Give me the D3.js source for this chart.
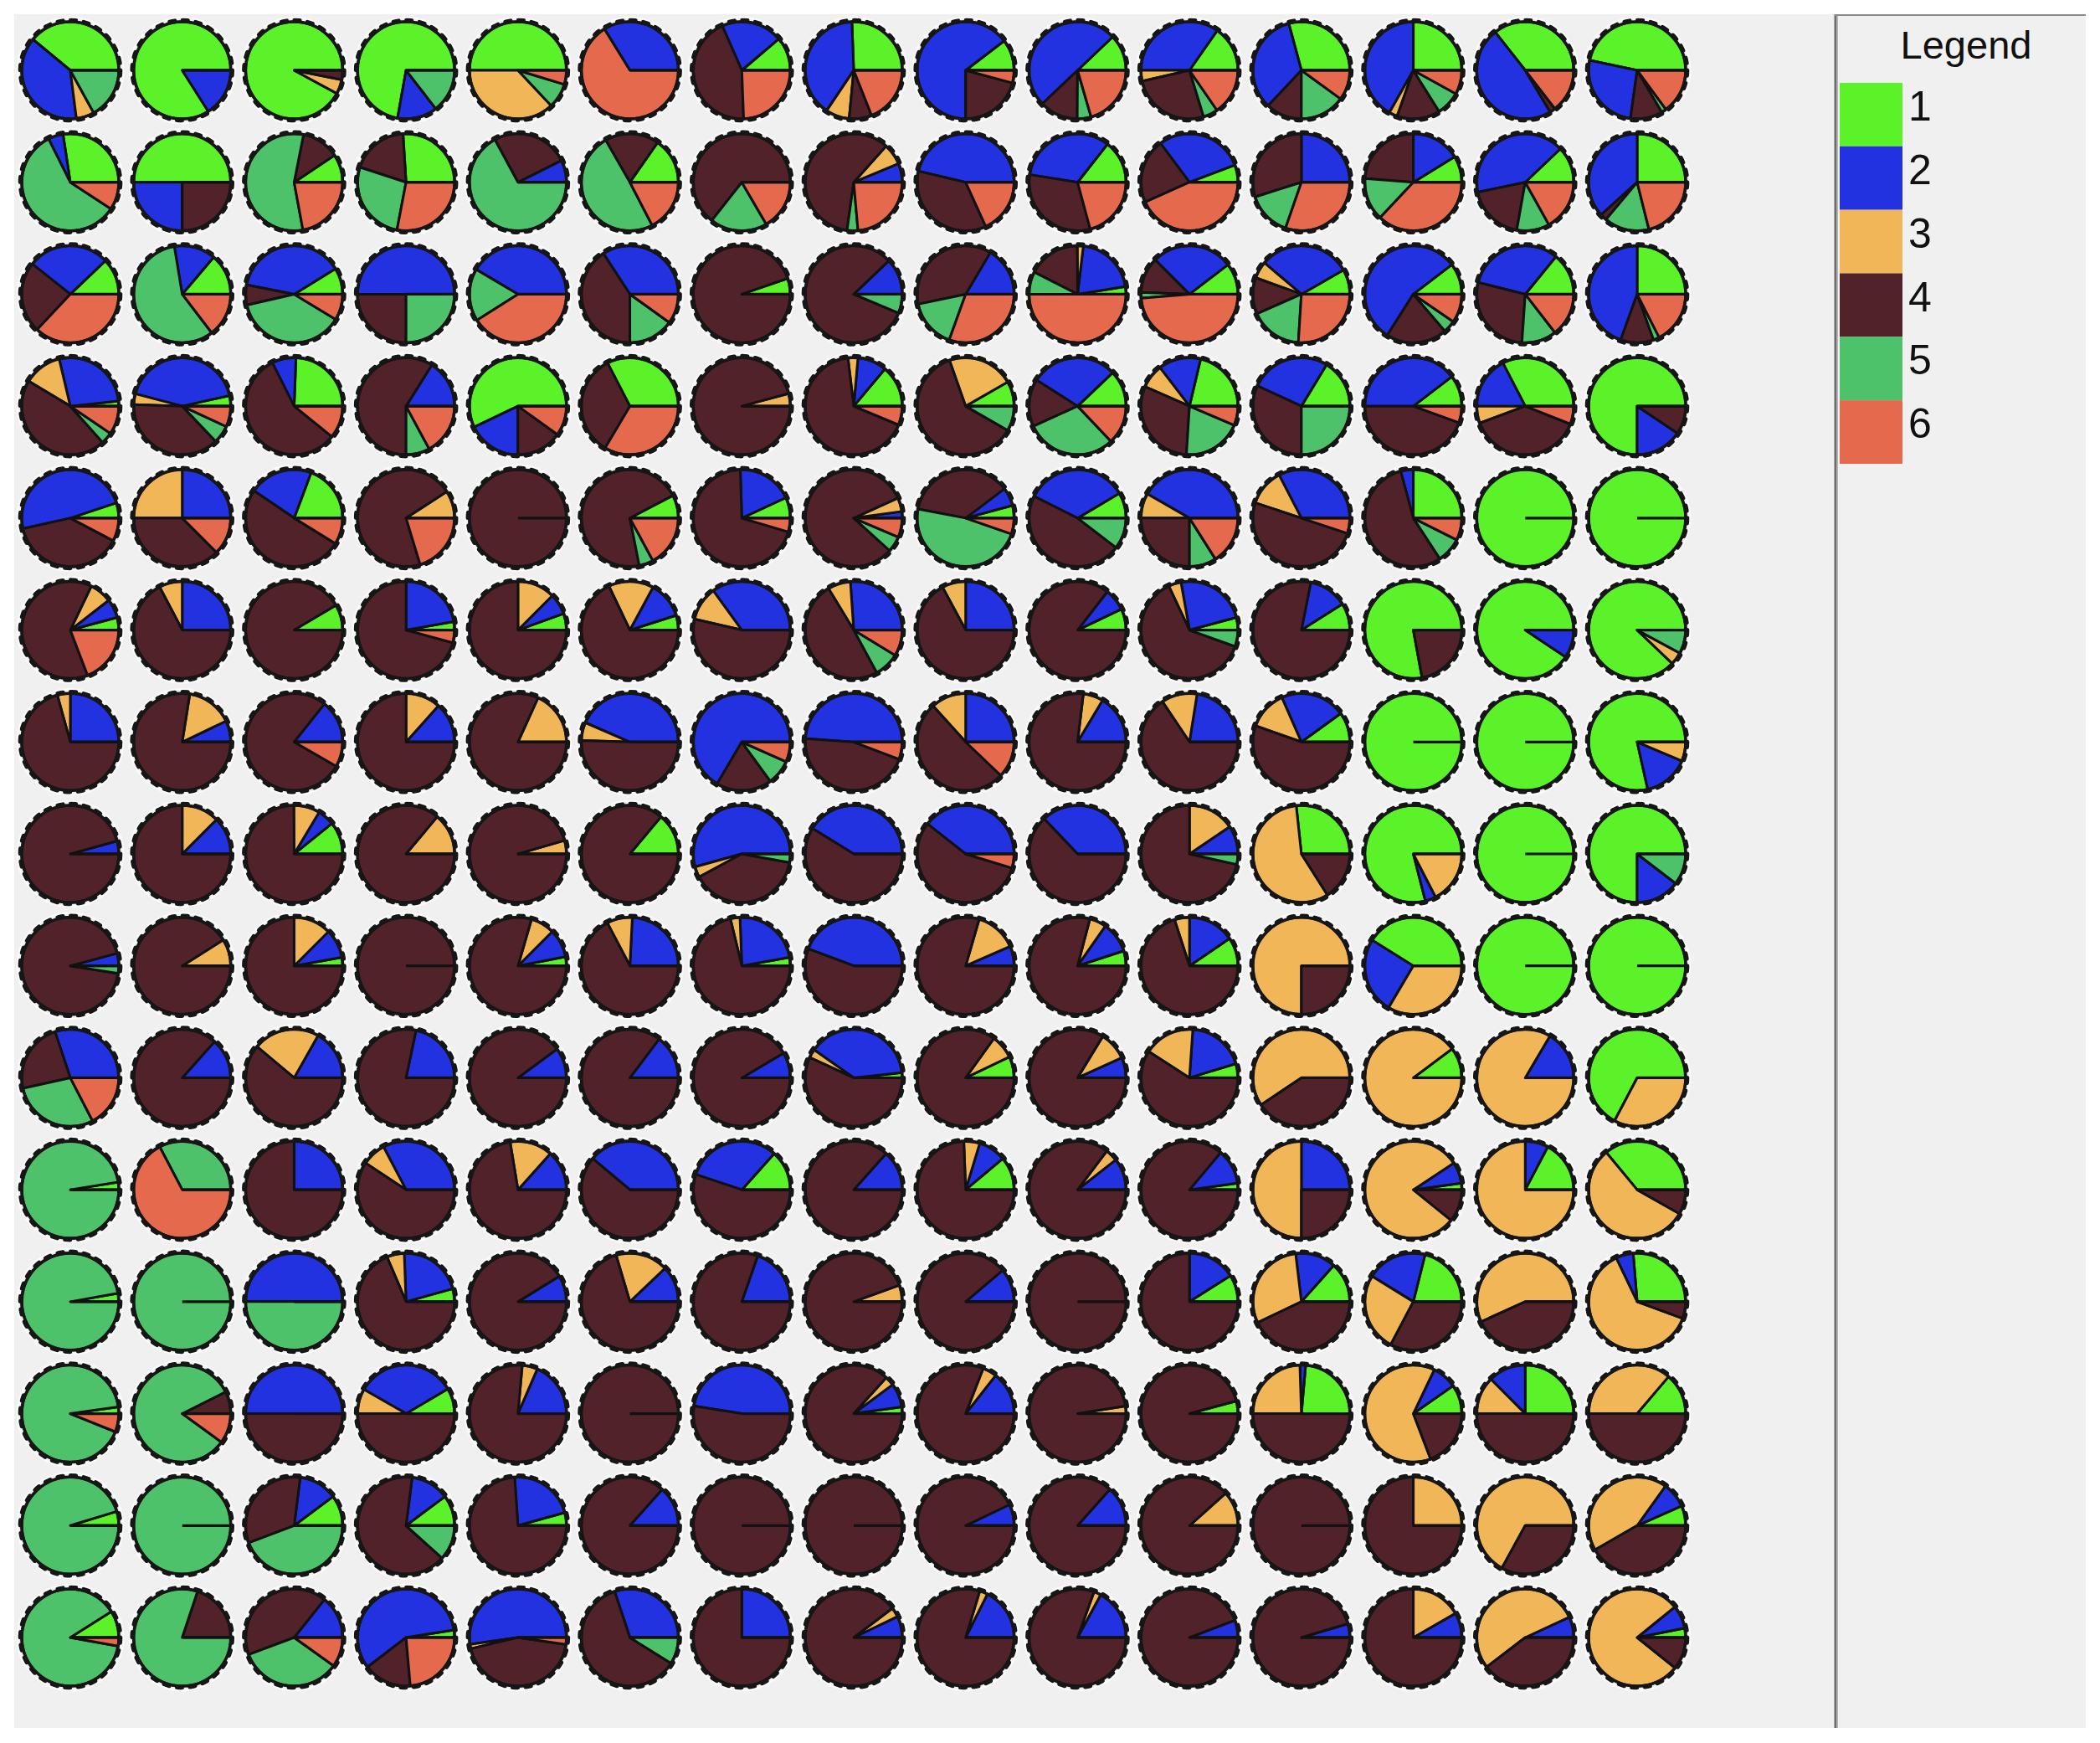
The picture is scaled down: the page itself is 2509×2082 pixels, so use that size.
<!DOCTYPE html>
<html>
<head>
<meta charset="utf-8">
<script src="https://cdn.jsdelivr.net/npm/d3@7"></script>
<style>
    body { margin: 0; background: #ffffff; }
    text { font-family: "Liberation Sans", Arial, sans-serif; fill: #111; }
</style>
</head>
<body>
<div id="som-pies"></div>
<script>
// class labels and their colours (legend order)
const classes = ["1", "2", "3", "4", "5", "6"];
const classColors = ["#5bf22a", "#2332e0", "#f0b657", "#52222b", "#4ec26b", "#e5694c"];

// share of each class (1..6) in every map node, one array per grid row
const row0 = [
    [39, 38, 6, 0, 17, 0], [84, 16, 0, 0, 0, 0], [92.1, 0, 4.8, 3.1, 0, 0], [72.2, 13.3, 0, 0, 14.5, 0], [50, 0, 37, 0, 8.3, 4.7],
    [0, 33.8, 0, 0, 0, 66.2], [11.2, 20.4, 0, 44, 0, 24.4], [25.6, 40, 7.9, 7.5, 0, 19], [10.4, 64.6, 0, 20.8, 0, 4.2], [12.1, 50, 0, 12.8, 4.6, 20.5],
    [15.3, 34.7, 3.6, 26.1, 4.9, 15.4], [29.2, 33.8, 0, 12, 15, 10], [25, 41.8, 2.8, 14.3, 8.1, 8], [35.6, 48, 0, 1.9, 0, 14.5], [46.7, 26.1, 0, 10.7, 1.6, 14.9]
];
const row1 = [
    [27.4, 5, 0, 0, 58.4, 9.2], [50, 25, 0, 25, 0, 0], [9.4, 0, 0, 12.5, 56, 22.1], [26, 0, 0, 19, 27, 28], [0, 7.4, 0, 25.5, 67.1, 0],
    [15.3, 0, 0, 18, 49.3, 17.4], [0, 0, 0, 64.4, 19, 16.6], [0, 6.3, 7.1, 59.4, 3.6, 23.6], [0, 46.3, 0, 35.5, 0, 18.2], [14.4, 33.1, 0, 31.7, 0, 20.8],
    [5.8, 29.4, 0, 21.5, 0, 43.3], [0, 25, 0, 29.9, 14.8, 30.3], [8.8, 16.2, 0, 23.8, 14.2, 37], [12.1, 41.2, 0, 18.9, 10.9, 16.9], [25, 36.7, 0, 2.2, 15, 21.1]
];
const row2 = [
    [12.1, 27.2, 0, 23.7, 0, 37], [13.8, 13.8, 0, 0, 57.8, 14.6], [8.8, 38.1, 0, 6.7, 37.7, 8.7], [0, 50, 0, 25, 25, 0], [0, 41.5, 0, 0, 17.5, 41],
    [0, 34.2, 0, 40.8, 15.1, 9.9], [5.3, 0, 0, 94.7, 0, 0], [0, 12.1, 0, 81.6, 6.3, 0], [0, 16.5, 0, 36.8, 16.2, 30.5], [2.5, 20.6, 2, 17.4, 7.5, 50],
    [10.4, 27.1, 0, 11.9, 1.9, 48.7], [8.3, 30.5, 5.7, 12.1, 17.4, 26], [10.4, 55.6, 0, 20.3, 4.1, 9.6], [14.1, 32, 0, 27.8, 11.6, 14.5], [25, 44.5, 0, 11, 2, 17.5]
];
const row3 = [
    [1.7, 27, 12.7, 45.2, 3.9, 9.5], [3.5, 42.4, 3.6, 37.6, 6, 6.9], [24.4, 8, 0, 56.8, 0, 10.8], [0, 16.1, 0, 58.9, 7.9, 17.1], [57.1, 17.9, 0, 15.1, 0, 9.9],
    [32.6, 0, 0, 33.9, 0, 33.5], [0, 0, 4.2, 95.8, 0, 0], [13.9, 9.7, 3.3, 66.8, 0, 6.3], [8.3, 0, 22.1, 61.3, 8.3, 0], [12.1, 28.9, 0, 15.8, 30.3, 12.9],
    [21.3, 14.1, 8, 30.6, 19.6, 6.4], [16.3, 26.8, 0, 31.9, 25, 0], [10.4, 39.6, 0, 44.5, 0, 5.5], [32.6, 17.4, 5.7, 38.3, 0, 6], [75, 15.6, 0, 9.4, 0, 0]
];
const row4 = [
    [5.1, 48.4, 0, 38.8, 0, 7.7], [0, 25, 25, 37.5, 0, 12.5], [19.3, 21.2, 0, 50.7, 0, 8.8], [0, 0, 9.2, 70.5, 0, 20.3], [0, 0, 0, 100, 0, 0],
    [7.7, 0, 0, 70.4, 4.8, 17.1], [6.9, 18.6, 0, 69.9, 0, 4.6], [0, 2.2, 4.6, 81.5, 5.3, 6.4], [4.2, 6.1, 0, 36.7, 47.7, 5.3], [8.5, 34.1, 0, 47, 10.4, 0],
    [0, 41.7, 8.3, 25, 9, 16], [0, 32.6, 12.3, 50, 0, 5.1], [25, 4.2, 0, 55, 8.4, 7.4], [100, 0, 0, 0, 0, 0], [100, 0, 0, 0, 0, 0]
];
const row5 = [
    [4.2, 6.3, 7.4, 62.9, 0, 19.2], [0, 25, 7.7, 67.3, 0, 0], [8.5, 0, 0, 91.5, 0, 0], [2.8, 22.2, 0, 70.8, 0, 4.2], [5.5, 7, 12.5, 75, 0, 0],
    [4.9, 12.2, 15, 67.9, 0, 0], [0, 35, 11.4, 53.6, 0, 0], [0, 26.1, 7.6, 49.2, 8.4, 8.7], [0, 25, 7.9, 67.1, 0, 0], [7.1, 7.4, 0, 85.5, 0, 0],
    [4.2, 23.6, 4.2, 62.5, 5.5, 0], [9, 12.9, 0, 78.1, 0, 0], [77.9, 0, 0, 22.1, 0, 0], [90.6, 9.4, 0, 0, 0, 0], [87.9, 0, 4.2, 0, 7.9, 0]
];
const row6 = [
    [0, 25, 4.3, 70.7, 0, 0], [0, 7.1, 15.4, 77.5, 0, 0], [0, 14.3, 0, 77.4, 0, 8.3], [0, 13.4, 11.6, 75, 0, 0], [0, 0, 18.2, 81.8, 0, 0],
    [0, 43.5, 6, 50.5, 0, 0], [0, 66.5, 0, 18.5, 8.3, 6.7], [0, 48.9, 0, 45.3, 0, 5.8], [0, 25, 11.7, 51.2, 0, 12.1], [0, 16.4, 6.7, 76.9, 0, 0],
    [0, 22.5, 11.9, 65.6, 0, 0], [10, 21.6, 13, 55.4, 0, 0], [100, 0, 0, 0, 0, 0], [100, 0, 0, 0, 0, 0], [78.5, 15.1, 6.4, 0, 0, 0]
];
const row7 = [
    [0, 4.3, 0, 95.7, 0, 0], [0, 12.5, 12.5, 75, 0, 0], [10.8, 5.6, 8.7, 74.9, 0, 0], [0, 0, 13.9, 86.1, 0, 0], [0, 0, 4.5, 95.5, 0, 0],
    [13.9, 0, 0, 86.1, 0, 0], [0, 54.3, 3.6, 39.3, 2.8, 0], [0, 41.2, 0, 58.8, 0, 0], [0, 39.4, 0, 55.9, 0, 4.7], [0, 37.1, 0, 62.9, 0, 0],
    [0, 9.5, 15.5, 71.5, 3.5, 0], [26.7, 0, 57.3, 16, 0, 0], [79, 3.6, 17.4, 0, 0, 0], [100, 0, 0, 0, 0, 0], [75, 14.6, 0, 0, 10.4, 0]
];
const row8 = [
    [0, 4.2, 0, 93.3, 2.5, 0], [0, 0, 9, 91, 0, 0], [2.8, 9.7, 12.5, 75, 0, 0], [0, 0, 0, 100, 0, 0], [3, 9.5, 8, 79.5, 0, 0],
    [0, 24.2, 8.5, 67.3, 0, 0], [2.8, 22.8, 3.2, 71.2, 0, 0], [0, 44.3, 0, 55.7, 0, 0], [0, 6.6, 13.9, 79.5, 0, 0], [5, 10.3, 5.6, 79.1, 0, 0],
    [9.5, 15.5, 5, 70, 0, 0], [0, 0, 75, 25, 0, 0], [41.1, 25.4, 33.5, 0, 0, 0], [100, 0, 0, 0, 0, 0], [100, 0, 0, 0, 0, 0]
];
const row9 = [
    [0, 30.1, 0, 23.4, 29.1, 17.4], [0, 13.4, 0, 86.6, 0, 0], [0, 16.8, 22.1, 61.1, 0, 0], [0, 21.7, 0, 78.3, 0, 0], [0, 10.1, 0, 89.9, 0, 0],
    [0, 14.7, 0, 85.3, 0, 0], [0, 8.5, 0, 91.5, 0, 0], [1.7, 38.5, 2.9, 56.9, 0, 0], [7.1, 0, 8, 84.9, 0, 0], [0, 6.8, 9.5, 83.7, 0, 0],
    [4.7, 19.2, 17, 59.1, 0, 0], [0, 0, 59.4, 40.6, 0, 0], [10.2, 0, 89.8, 0, 0, 0], [0, 16.5, 83.5, 0, 0, 0], [67.3, 0, 32.7, 0, 0, 0]
];
const row10 = [
    [2.5, 0, 0, 0, 97.5, 0], [0, 0, 0, 0, 32.7, 67.3], [0, 25, 0, 75, 0, 0], [0, 32.7, 8, 59.3, 0, 0], [0, 13.4, 14.2, 72.4, 0, 0],
    [0, 38.9, 0, 61.1, 0, 0], [13.4, 31.5, 0, 55.1, 0, 0], [0, 13.4, 0, 86.6, 0, 0], [11.1, 9.2, 5.3, 74.4, 0, 0], [0, 10.6, 4.1, 85.3, 0, 0],
    [2.2, 11.7, 0, 86.1, 0, 0], [0, 25, 50, 25, 0, 0], [2.2, 7.1, 79.9, 10.8, 0, 0], [17.3, 7.7, 75, 0, 0, 0], [36, 0, 55.8, 8.2, 0, 0]
];
const row11 = [
    [2.8, 0, 0, 0, 97.2, 0], [0, 0, 0, 0, 100, 0], [0, 50, 0, 0, 50, 0], [4.3, 21.3, 5.8, 68.6, 0, 0], [0, 8.8, 0, 91.2, 0, 0],
    [0, 12.1, 17.5, 70.4, 0, 0], [0, 19.7, 0, 80.3, 0, 0], [0, 0, 5.5, 94.5, 0, 0], [0, 11.2, 0, 88.8, 0, 0], [0, 0, 0, 100, 0, 0],
    [9, 16, 0, 75, 0, 0], [13.4, 13.5, 30.2, 42.9, 0, 0], [21.1, 20.1, 26.1, 32.7, 0, 0], [0, 0, 56.8, 43.2, 0, 0], [26.3, 5.8, 62.3, 5.6, 0, 0]
];
const row12 = [
    [2.2, 0, 0, 0, 91.7, 6.1], [0, 0, 0, 7.4, 82.6, 10], [0, 50, 0, 50, 0, 0], [8.5, 33.2, 8.3, 50, 0, 0], [0, 18.5, 5.1, 76.4, 0, 0],
    [0, 0, 0, 100, 0, 0], [0, 47.5, 0, 52.5, 0, 0], [2.2, 8, 3.1, 86.7, 0, 0], [0, 14.4, 4.7, 80.9, 0, 0], [0, 0, 2.5, 97.5, 0, 0],
    [4.2, 0, 0, 95.8, 0, 0], [23.6, 1.9, 24.5, 50, 0, 0], [9.7, 8.2, 62.9, 19.2, 0, 0], [25, 12.5, 12.5, 50, 0, 0], [13.8, 0, 36.2, 50, 0, 0]
];
const row13 = [
    [4.7, 0, 0, 0, 95.3, 0], [0, 0, 0, 0, 100, 0], [10.2, 12.8, 0, 32.8, 44.2, 0], [10.2, 12.8, 0, 65.3, 11.7, 0], [4.3, 21.8, 0, 73.9, 0, 0],
    [0, 13.4, 0, 86.6, 0, 0], [0, 0, 0, 100, 0, 0], [0, 0, 0, 100, 0, 0], [0, 7.1, 0, 92.9, 0, 0], [0, 13.4, 0, 86.6, 0, 0],
    [0, 0, 11.6, 88.4, 0, 0], [0, 0, 0, 100, 0, 0], [0, 0, 25, 75, 0, 0], [0, 0, 67, 33, 0, 0], [6.6, 8.5, 43.2, 41.7, 0, 0]
];
const row14 = [
    [9, 0, 0, 0, 88.2, 2.8], [0, 0, 0, 19.9, 80.1, 0], [0, 14.3, 0, 41.4, 34.4, 9.9], [2.5, 57.9, 0, 16, 0, 23.6], [0, 52.3, 1.4, 44, 0, 2.3],
    [0, 30.1, 0, 61, 8.9, 0], [0, 25, 0, 75, 0, 0], [0, 7.1, 3.2, 89.7, 0, 0], [0, 17.6, 2.7, 79.7, 0, 0], [0, 17.1, 2.4, 80.5, 0, 0],
    [0, 5.8, 0, 94.2, 0, 0], [0, 4.6, 0, 95.4, 0, 0], [0, 8.3, 16.7, 75, 0, 0], [0, 6.9, 53.5, 39.6, 0, 0], [3.1, 7.8, 78.8, 10.8, 0, 0]
];

const gridRows = [row0, row1, row2, row3, row4, row5, row6, row7, row8, row9, row10, row11, row12, row13, row14];

const width = 2509;
const height = 2082;
const pieRadius = 58;

const svg = d3.select("#som-pies")
    .append("svg")
    .attr("width", width)
    .attr("height", height);

// grey window panels
svg.append("rect")
    .attr("x", 17).attr("y", 17)
    .attr("width", 2475).attr("height", 2047)
    .attr("fill", "#f0f0f0");

const colScale = d3.scalePoint().domain(d3.range(15)).range([84, 1956]);
const rowScale = d3.scalePoint().domain(d3.range(15)).range([84, 1956]);
const color = d3.scaleOrdinal().domain(d3.range(6)).range(classColors);

// slices start at 3 o'clock and run counter-clockwise
const pie = d3.pie()
    .sort(null)
    .value((d) => d.value)
    .startAngle(Math.PI / 2)
    .endAngle(Math.PI / 2 - 2 * Math.PI);

const arc = d3.arc().innerRadius(0).outerRadius(pieRadius);

const nodes = [];
gridRows.forEach((row, r) => row.forEach((shares, c) => nodes.push({ r, c, shares })));

const nodeGroups = svg.append("g")
    .attr("class", "map-container")
    .selectAll(".node")
    .data(nodes)
    .enter()
    .append("g")
    .attr("class", "node")
    .attr("transform", (d) => `translate(${colScale(d.c)}, ${rowScale(d.r)})`);

// light halo round every pie
nodeGroups.append("circle")
    .attr("r", pieRadius + 5)
    .attr("fill", "none")
    .attr("stroke", "#ffffff")
    .attr("stroke-width", 2.5)
    .attr("opacity", 0.7);

nodeGroups.selectAll(".slice")
    .data((d) => pie(d.shares.map((v, i) => ({ value: v, cls: i }))).filter((a) => a.data.value > 0))
    .enter()
    .append("path")
    .attr("class", "slice")
    .attr("d", arc)
    .attr("fill", (d) => color(d.data.cls))
    .attr("stroke", "#111")
    .attr("stroke-width", 3)
    .attr("stroke-linejoin", "round");

// start line at 3 o'clock
nodeGroups.append("line")
    .attr("x1", 0).attr("y1", 0)
    .attr("x2", pieRadius).attr("y2", 0)
    .attr("stroke", "#111")
    .attr("stroke-width", 3.2);

// scalloped rim
const rimRadius = pieRadius + 1.8;
const bump = (2 * Math.PI * rimRadius) / 24;

nodeGroups.append("circle")
    .attr("r", pieRadius)
    .attr("fill", "none")
    .attr("stroke", "#161616")
    .attr("stroke-width", 3.6);

nodeGroups.append("circle")
    .attr("r", rimRadius)
    .attr("fill", "none")
    .attr("stroke", "#161616")
    .attr("stroke-width", 5)
    .attr("stroke-dasharray", `${bump * 0.4} ${bump * 0.6}`)
    .attr("stroke-linecap", "round");

// legend panel
const legend = svg.append("g").attr("class", "map-legend");

legend.append("line")
    .attr("x1", 2193).attr("y1", 17)
    .attr("x2", 2193).attr("y2", 2064)
    .attr("stroke", "#6c6c6c")
    .attr("stroke-width", 3);

legend.append("line")
    .attr("x1", 2195.5).attr("y1", 17)
    .attr("x2", 2195.5).attr("y2", 2064)
    .attr("stroke", "#b4b4b4")
    .attr("stroke-width", 1);

legend.append("line")
    .attr("x1", 2192).attr("y1", 18)
    .attr("x2", 2492).attr("y2", 18)
    .attr("stroke", "#8a8a8a")
    .attr("stroke-width", 2);

legend.append("text")
    .attr("x", 2349)
    .attr("y", 70)
    .attr("text-anchor", "middle")
    .attr("font-size", 47)
    .text("Legend");

const legendY = d3.scaleBand().domain(classes).range([99, 554]);

legend.selectAll(".legend-swatch")
    .data(classes)
    .enter()
    .append("rect")
    .attr("class", "legend-swatch")
    .attr("x", 2198)
    .attr("y", (d) => legendY(d))
    .attr("width", 75)
    .attr("height", legendY.bandwidth())
    .attr("fill", (d, i) => classColors[i]);

legend.selectAll(".legend-label")
    .data(classes)
    .enter()
    .append("text")
    .attr("class", "legend-label")
    .attr("x", 2280)
    .attr("y", (d) => legendY(d) + 45)
    .attr("font-size", 50)
    .text((d) => d);
</script>
</body>
</html>
